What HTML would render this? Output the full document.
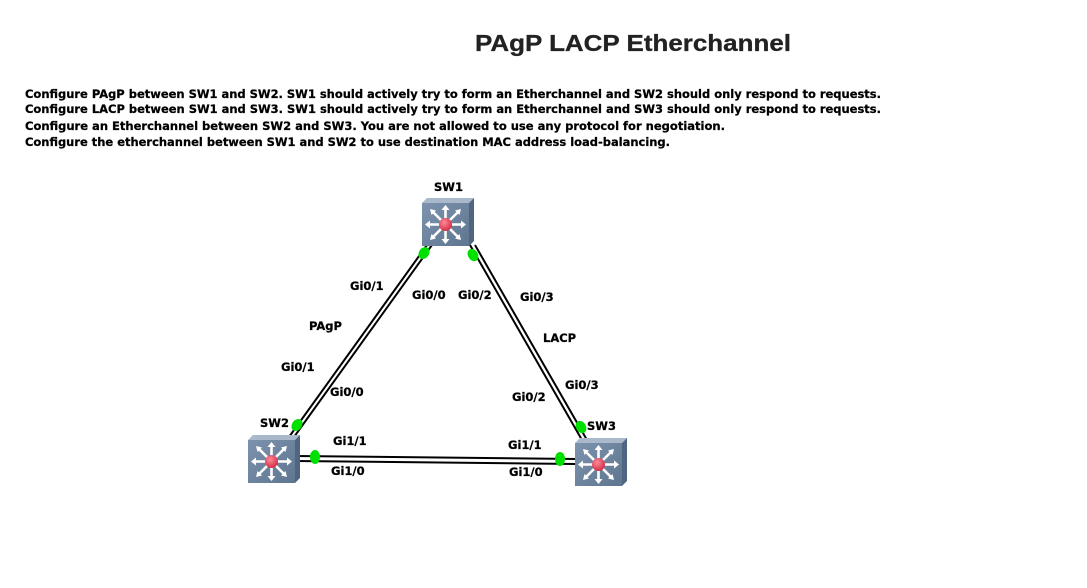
<!DOCTYPE html>
<html><head><meta charset="utf-8"><style>
html,body{margin:0;padding:0;background:#fff;}
svg{display:block;}
text{font-family:"DejaVu Sans","Liberation Sans",sans-serif;font-weight:bold;fill:#000;stroke:#000;stroke-width:0.25;}
</style></head><body>
<svg width="1087" height="588" viewBox="0 0 1087 588" xmlns="http://www.w3.org/2000/svg">
<defs>
<linearGradient id="fr" x1="0" y1="0" x2="1" y2="1"><stop offset="0" stop-color="#7d93ad"/><stop offset="1" stop-color="#5f7690"/></linearGradient>
<radialGradient id="rd" cx="0.4" cy="0.35" r="0.7"><stop offset="0" stop-color="#ff8a9a"/><stop offset="1" stop-color="#d0283f"/></radialGradient>
<g id="sw">
<polygon points="0,5 5,0 52,0 47,5" fill="#a9b8ca"/>
<polygon points="47,5 52,0 52,43 47,48" fill="#506680"/>
<rect x="0" y="5" width="47" height="43" fill="url(#fr)"/>
<g stroke="#fff" stroke-width="2.6" fill="#fff">
<line x1="23.5" y1="26.5" x2="23.5" y2="10"/><line x1="23.5" y1="26.5" x2="23.5" y2="43"/>
<line x1="23.5" y1="26.5" x2="6" y2="26.5"/><line x1="23.5" y1="26.5" x2="41" y2="26.5"/>
<line x1="23.5" y1="26.5" x2="11" y2="14"/><line x1="23.5" y1="26.5" x2="36" y2="14"/>
<line x1="23.5" y1="26.5" x2="11" y2="39"/><line x1="23.5" y1="26.5" x2="36" y2="39"/>
</g>
<g fill="#fff">
<polygon points="23.5,7 19.5,12 27.5,12"/><polygon points="23.5,46 19.5,41 27.5,41"/>
<polygon points="3,26.5 8,22.5 8,30.5"/><polygon points="44,26.5 39,22.5 39,30.5"/>
<polygon points="8,11 14,12.5 9.5,17"/><polygon points="39,11 33,12.5 37.5,17"/>
<polygon points="8,42 14,40.5 9.5,36"/><polygon points="39,42 33,40.5 37.5,36"/>
</g>
<circle cx="23.5" cy="26.5" r="6.5" fill="url(#rd)"/>
</g>
</defs>

<text x="475" y="51" font-size="23" textLength="316" lengthAdjust="spacingAndGlyphs" style="font-family:'Liberation Sans',sans-serif;fill:#222;stroke:#222;stroke-width:0.3">PAgP LACP Etherchannel</text>

<g font-size="11.5">
<text x="25" y="98" textLength="856" lengthAdjust="spacingAndGlyphs">Configure PAgP between SW1 and SW2. SW1 should actively try to form an Etherchannel and SW2 should only respond to requests.</text>
<text x="25" y="113" textLength="856" lengthAdjust="spacingAndGlyphs">Configure LACP between SW1 and SW3. SW1 should actively try to form an Etherchannel and SW3 should only respond to requests.</text>
<text x="25" y="130" textLength="700" lengthAdjust="spacingAndGlyphs">Configure an Etherchannel between SW2 and SW3. You are not allowed to use any protocol for negotiation.</text>
<text x="25" y="146" textLength="645" lengthAdjust="spacingAndGlyphs">Configure the etherchannel between SW1 and SW2 to use destination MAC address load-balancing.</text>
</g>

<g stroke="#000" stroke-width="2" fill="none">
<line x1="427" y1="245" x2="289" y2="437"/>
<line x1="432" y1="245" x2="294" y2="437"/>
<line x1="470" y1="245" x2="582" y2="440"/>
<line x1="475" y1="245" x2="587" y2="440"/>
<line x1="295" y1="456" x2="576" y2="459"/>
<line x1="295" y1="461" x2="576" y2="464"/>
</g>

<use href="#sw" x="422" y="198"/>
<use href="#sw" x="248" y="435"/>
<use href="#sw" x="575" y="438"/>

<g fill="#00e000">
<ellipse cx="424" cy="253" rx="6.5" ry="5" transform="rotate(-54 424 253)"/>
<ellipse cx="473" cy="255" rx="6.5" ry="5" transform="rotate(60 473 255)"/>
<ellipse cx="297" cy="425" rx="6.5" ry="5" transform="rotate(-54 297 425)"/>
<ellipse cx="581" cy="427" rx="6.5" ry="5" transform="rotate(60 581 427)"/>
<ellipse cx="315" cy="457" rx="5" ry="7"/>
<ellipse cx="560" cy="459" rx="5" ry="7"/>
</g>

<g font-size="11.5">
<text x="434" y="191">SW1</text>
<text x="260" y="427">SW2</text>
<text x="587" y="430">SW3</text>
<text x="350" y="290">Gi0/1</text>
<text x="412" y="299">Gi0/0</text>
<text x="458" y="299">Gi0/2</text>
<text x="520" y="301">Gi0/3</text>
<text x="309" y="330">PAgP</text>
<text x="543" y="342">LACP</text>
<text x="281" y="371">Gi0/1</text>
<text x="330" y="396">Gi0/0</text>
<text x="565" y="389">Gi0/3</text>
<text x="512" y="401">Gi0/2</text>
<text x="333" y="445">Gi1/1</text>
<text x="508" y="449">Gi1/1</text>
<text x="331" y="475">Gi1/0</text>
<text x="509" y="476">Gi1/0</text>
</g>
</svg>
</body></html>
